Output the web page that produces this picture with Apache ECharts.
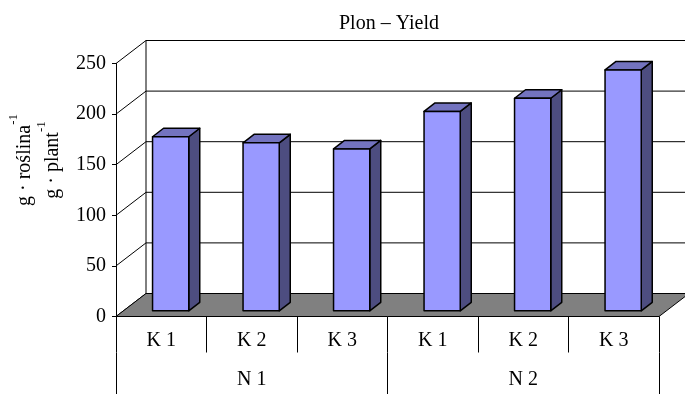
<!DOCTYPE html>
<html>
<head>
<meta charset="utf-8">
<script src="https://cdn.jsdelivr.net/npm/echarts@6/dist/echarts.min.js"></script>
<style>
  html, body { margin: 0; padding: 0; background: #fff; }
  #chart { width: 685px; height: 394px; }
</style>
</head>
<body>
<div id="chart"></div>
<script>
// data
const groups = ['N 1', 'N 2'];
const categories = ['K 1', 'K 2', 'K 3', 'K 1', 'K 2', 'K 3'];
const yields = [172, 166, 160, 197, 210, 238];
const yTicks = [0, 50, 100, 150, 200, 250];

const FONT = "'Liberation Serif', 'Times New Roman', serif";
// 3D look: wall depth and bar offset/depth (px)
const WALL_DX = 30, WALL_DY = -23;
const BAR_OX = 9.4, BAR_OY = -5.7;
const BAR_DX = 11, BAR_DY = -8.5;

let chart = echarts.init(document.getElementById('chart'));

function renderWall(params, api) {
    const cs = params.coordSys;
    const v = api.value(1);
    const y = api.coord([0, v])[1];
    const x0 = cs.x, x1 = cs.x + cs.width;
    const line = { stroke: '#000', lineWidth: 1 };
    let children = [
        { type: 'line', shape: { x1: x0, y1: y, x2: x0 + WALL_DX, y2: y + WALL_DY }, style: line }
    ];
    if (v > 0) {
        children.push({ type: 'line', shape: { x1: x0 + WALL_DX, y1: y + WALL_DY, x2: x1 + WALL_DX, y2: y + WALL_DY }, style: line });
    }
    return { type: 'group', children: children };
}

function renderFloor(params, api) {
    const cs = params.coordSys;
    const y0 = api.coord([0, yTicks[0]])[1];
    const yTop = api.coord([0, yTicks[yTicks.length - 1]])[1];
    const x0 = cs.x, x1 = cs.x + cs.width;
    return {
        type: 'group',
        children: [
            { type: 'line', shape: { x1: x0 + WALL_DX, y1: yTop + WALL_DY, x2: x0 + WALL_DX, y2: y0 + WALL_DY },
              style: { stroke: '#000', lineWidth: 1 } },
            { type: 'polygon',
              shape: { points: [[x0, y0], [x1, y0], [x1 + WALL_DX, y0 + WALL_DY], [x0 + WALL_DX, y0 + WALL_DY]] },
              style: { fill: '#808080', stroke: '#000', lineWidth: 1 } }
        ]
    };
}

function renderBar(params, api) {
    const top = api.coord([api.value(0), api.value(1)]);
    const base = api.coord([api.value(0), 0]);
    const w = api.size([1, 0])[0] * 0.4;
    const xl = top[0] - w / 2 + BAR_OX, xr = xl + w;
    const yt = top[1] + BAR_OY, yb = base[1] + BAR_OY;
    const edge = { stroke: '#000', lineWidth: 1.5, lineJoin: 'round' };
    return {
        type: 'group',
        children: [
            { type: 'polygon', shape: { points: [[xr, yt], [xr + BAR_DX, yt + BAR_DY], [xr + BAR_DX, yb + BAR_DY], [xr, yb]] },
              style: Object.assign({ fill: '#4D4D80' }, edge) },
            { type: 'polygon', shape: { points: [[xl, yt], [xl + BAR_DX, yt + BAR_DY], [xr + BAR_DX, yt + BAR_DY], [xr, yt]] },
              style: Object.assign({ fill: '#7373BF' }, edge) },
            { type: 'rect', shape: { x: xl, y: yt, width: w, height: yb - yt },
              style: Object.assign({ fill: '#9999FF' }, edge) }
        ]
    };
}

let option = {
    backgroundColor: '#fff',
    animation: false,
    title: {
        text: 'Plon – Yield',
        left: 384,
        top: 9,
        textAlign: 'center',
        textStyle: { fontFamily: FONT, fontSize: 20, fontWeight: 'normal', color: '#000' }
    },
    grid: { left: 116, right: 26, top: 63.5, bottom: 77.5 },
    xAxis: [
        {
            type: 'category',
            data: categories,
            axisLine: { lineStyle: { color: '#000', width: 1 } },
            axisTick: { show: true, interval: 0, length: 36, lineStyle: { color: '#000', width: 1 } },
            axisLabel: { fontFamily: FONT, fontSize: 20, color: '#000', margin: 14 }
        },
        {
            type: 'category',
            data: groups,
            position: 'bottom',
            offset: 36,
            axisLine: { show: false },
            axisTick: { show: true, interval: 0, length: 42, lineStyle: { color: '#000', width: 1 } },
            axisLabel: { fontFamily: FONT, fontSize: 20, color: '#000', margin: 17 }
        }
    ],
    yAxis: {
        type: 'value',
        min: 0,
        max: 250,
        interval: 50,
        axisLine: { show: true, lineStyle: { color: '#000', width: 1 } },
        axisTick: { show: true, length: 4, lineStyle: { color: '#000' } },
        splitLine: { show: false },
        axisLabel: { fontFamily: FONT, fontSize: 20, color: '#000', margin: 10 }
    },
    graphic: [{
        type: 'text',
        x: 35,
        y: 160,
        rotation: Math.PI / 2,
        style: {
            text: '{b|g · roślina}{s|-1}\n{b|g · plant}{s|-1}',
            align: 'center',
            verticalAlign: 'middle',
            rich: {
                b: { fontFamily: FONT, fontSize: 20, lineHeight: 28, fill: '#000', verticalAlign: 'bottom' },
                s: { fontFamily: FONT, fontSize: 13, lineHeight: 20, fill: '#000', verticalAlign: 'top' }
            }
        }
    }],
    series: [
        {
            type: 'custom',
            z: 1,
            silent: true,
            renderItem: renderWall,
            data: yTicks.map(v => [0, v])
        },
        {
            type: 'custom',
            z: 2,
            silent: true,
            renderItem: renderFloor,
            data: [[0, 0]]
        },
        {
            type: 'custom',
            z: 3,
            renderItem: renderBar,
            data: yields.map((v, i) => [i, v])
        }
    ]
};
chart.setOption(option);
</script>
</body>
</html>
